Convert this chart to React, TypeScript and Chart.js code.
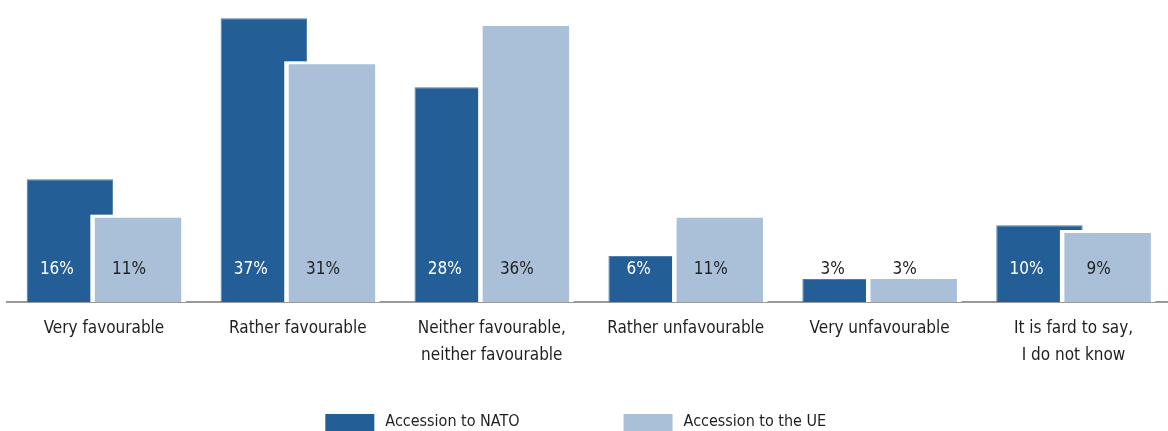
import React, { useEffect, useRef } from "react";
import { Chart, registerables } from "chart.js";

Chart.register(...registerables);

const categories: (string | string[])[] = [
  "Very favourable",
  "Rather favourable",
  ["Neither favourable,", "neither favourable"],
  "Rather unfavourable",
  "Very unfavourable",
  ["It is fard to say,", "I do not know"],
];
const natoValues = [16, 37, 28, 6, 3, 10];
const ueValues = [11, 31, 36, 11, 3, 9];
const seriesNames = ["Accession to NATO", "Accession to the UE"];

const DARK = "#235e96";
const LIGHT = "#a9c0d8";
const TEXT = "#1f1f1f";
const FONT = '"DejaVu Sans Condensed", "Liberation Sans Narrow", sans-serif';

const overlapPlugin = {
  id: "overlapBars",
  beforeDatasetDraw(chart: any, args: any) {
    if (args.index === 1) return false;
    return true;
  },
  afterDatasetsDraw(chart: any) {
    const ctx = chart.ctx;
    const meta1 = chart.getDatasetMeta(1);
    // white outline behind light bars
    ctx.save();
    ctx.fillStyle = "#ffffff";
    meta1.data.forEach((el: any) => {
      const { x, y, width, base } = el.getProps(["x", "y", "width", "base"], true);
      ctx.fillRect(x - width / 2 - 4.5, y - 3, width + 9, base - y + 3);
    });
    ctx.restore();
    meta1.controller.draw();

    // value labels
    const yScale = chart.scales.y;
    const zero = yScale.getPixelForValue(0);
    const labelY = zero - 32;
    ctx.save();
    ctx.font = `17px ${FONT}`;
    ctx.textAlign = "center";
    ctx.textBaseline = "middle";
    const meta0 = chart.getDatasetMeta(0);
    meta0.data.forEach((el: any, i: number) => {
      ctx.fillStyle = el.y < labelY - 8 ? "#ffffff" : TEXT;
      ctx.fillText(`${natoValues[i]}%`, el.x - 13, labelY);
    });
    meta1.data.forEach((el: any, i: number) => {
      ctx.fillStyle = TEXT;
      ctx.fillText(`${ueValues[i]}%`, el.x - 9, labelY);
    });
    ctx.restore();

    // legend
    const area = chart.chartArea;
    const center = (area.left + area.right) / 2 - 13;
    ctx.save();
    ctx.font = `16px ${FONT}`;
    ctx.textBaseline = "middle";
    ctx.textAlign = "left";
    const boxW = 49;
    const boxH = 17;
    const gap = 11;
    const spacing = 104;
    const w1 = ctx.measureText(seriesNames[0]).width;
    const w2 = ctx.measureText(seriesNames[1]).width;
    const total = boxW + gap + w1 + spacing + boxW + gap + w2;
    let x = center - total / 2;
    const boxY = 414;
    const colors = [DARK, LIGHT];
    [w1, w2].forEach((w, i) => {
      ctx.fillStyle = colors[i];
      ctx.fillRect(x, boxY, boxW, boxH);
      ctx.fillStyle = TEXT;
      ctx.fillText(seriesNames[i], x + boxW + gap, boxY + 8);
      x += boxW + gap + w + spacing;
    });
    ctx.restore();
  },
};

export default function App() {
  const canvasRef = useRef<HTMLCanvasElement | null>(null);

  useEffect(() => {
    document.body.style.margin = "0";
    const canvas = canvasRef.current;
    if (!canvas) return;
    const chart = new Chart(canvas, {
      type: "bar",
      data: {
        labels: categories,
        datasets: [
          {
            label: seriesNames[0],
            data: natoValues,
            backgroundColor: DARK,
            borderColor: "#4f7fae",
            borderWidth: { top: 1, left: 1, right: 1, bottom: 0 },
            borderSkipped: "bottom",
            categoryPercentage: 0.703,
            barPercentage: 1.268,
          },
          {
            label: seriesNames[1],
            data: ueValues,
            backgroundColor: LIGHT,
            borderWidth: 0,
            categoryPercentage: 0.703,
            barPercentage: 1.268,
          },
        ],
      },
      options: {
        animation: false,
        responsive: true,
        maintainAspectRatio: false,
        layout: { padding: { left: 7, right: 5.5, top: 3, bottom: 49 } },
        plugins: {
          legend: { display: false },
          tooltip: { enabled: false },
        },
        scales: {
          x: {
            grid: { display: false, drawTicks: false },
            border: { display: true, color: "#999999", width: 2 },
            ticks: {
              color: TEXT,
              padding: 13,
              maxRotation: 0,
              autoSkip: false,
              font: { family: FONT, size: 17, lineHeight: "27px" },
            },
          },
          y: {
            display: false,
            min: 0,
            max: 39,
          },
        },
      },
      plugins: [overlapPlugin],
    });
    return () => chart.destroy();
  }, []);

  return (
    <div
      style={{
        position: "fixed",
        left: 0,
        top: 0,
        width: 1168,
        height: 431,
        overflow: "hidden",
        background: "#ffffff",
      }}
    >
      <div style={{ position: "absolute", left: 0, top: 0, width: 1176, height: 431 }}>
        <canvas ref={canvasRef} />
      </div>
    </div>
  );
}
